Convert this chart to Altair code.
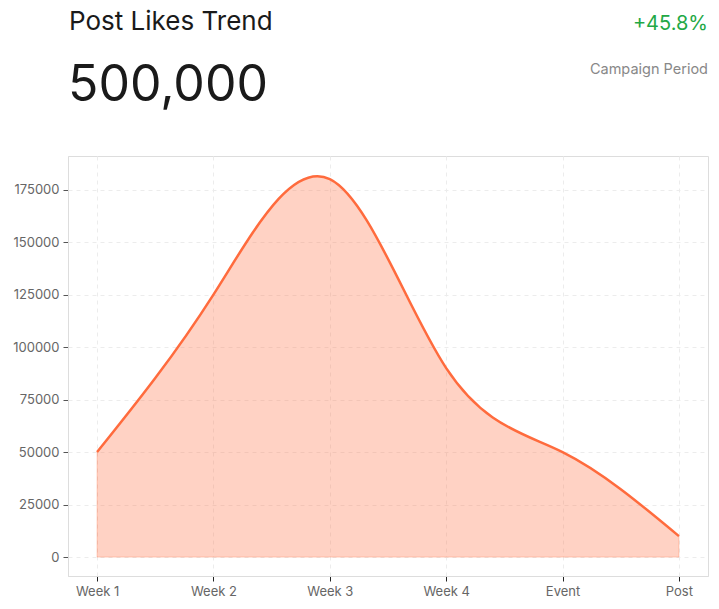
import altair as alt
import pandas as pd

# Chart values
periods = ["Week 1", "Week 2", "Week 3", "Week 4", "Event", "Post"]
likes = [50000, 125000, 180000, 90000, 50000, 10000]

headline_title = "Post Likes Trend"
headline_value = "500,000"
change_label = "+45.8%"
period_label = "Campaign Period"

FONT = "Inter"
ORANGE = "#ff6b3d"

df = pd.DataFrame({"period": periods, "likes": likes})
kpi = pd.DataFrame({
    "title": [headline_title], "value": [headline_value],
    "change": [change_label], "period": [period_label],
})

x_enc = alt.X(
    "period:N",
    sort=periods,
    title=None,
    scale=alt.Scale(type="point", padding=0.25),
    axis=alt.Axis(
        labelAngle=0, grid=True, gridDash=[4, 4], gridColor="#ececec",
        domainColor="#dddddd", tickColor="#222222", tickSize=5,
        labelColor="#666666", labelFontSize=13, labelPadding=4, labelFont=FONT,
    ),
)
y_enc = alt.Y(
    "likes:Q",
    title=None,
    scale=alt.Scale(domain=[-9000, 191000], nice=False, zero=False),
    axis=alt.Axis(
        values=[0, 25000, 50000, 75000, 100000, 125000, 150000, 175000],
        format="d", grid=True, gridDash=[4, 4], gridColor="#ececec",
        domainColor="#dddddd", tickColor="#555555", tickSize=5,
        labelColor="#666666", labelFontSize=13, labelPadding=4, labelFont=FONT,
    ),
)

base = alt.Chart(df).encode(x=x_enc, y=y_enc)

# smooth curve through the six points
area = base.mark_area(
    interpolate="natural", color=ORANGE, fillOpacity=0.3,
    stroke=ORANGE, strokeOpacity=0.3, strokeWidth=1,
).encode(y2=alt.datum(0))

line = base.mark_line(interpolate="natural", color=ORANGE, strokeWidth=2.5)


def header_text(field, x, y, size, color, align):
    return alt.Chart(kpi).mark_text(
        align=align, baseline="alphabetic", font=FONT, fontSize=size, color=color
    ).encode(x=alt.value(x), y=alt.value(y), text=f"{field}:N")


title_text = header_text("title", 1, -126, 26, "#1a1a1a", "left")
value_text = header_text("value", 0, -55, 50, "#1a1a1a", "left")
change_text = header_text("change", 640, -126, 20, "#22a845", "right")
period_text = header_text("period", 640, -82, 14.5, "#888888", "right")

chart = alt.layer(
    area, line, title_text, value_text, change_text, period_text
).properties(
    width=640,
    height=420,
).configure_view(stroke=None).configure(padding={"left": 4, "top": 1, "right": 2, "bottom": 5})

chart.save("out.html", embed_options={"renderer": "svg", "actions": False})
